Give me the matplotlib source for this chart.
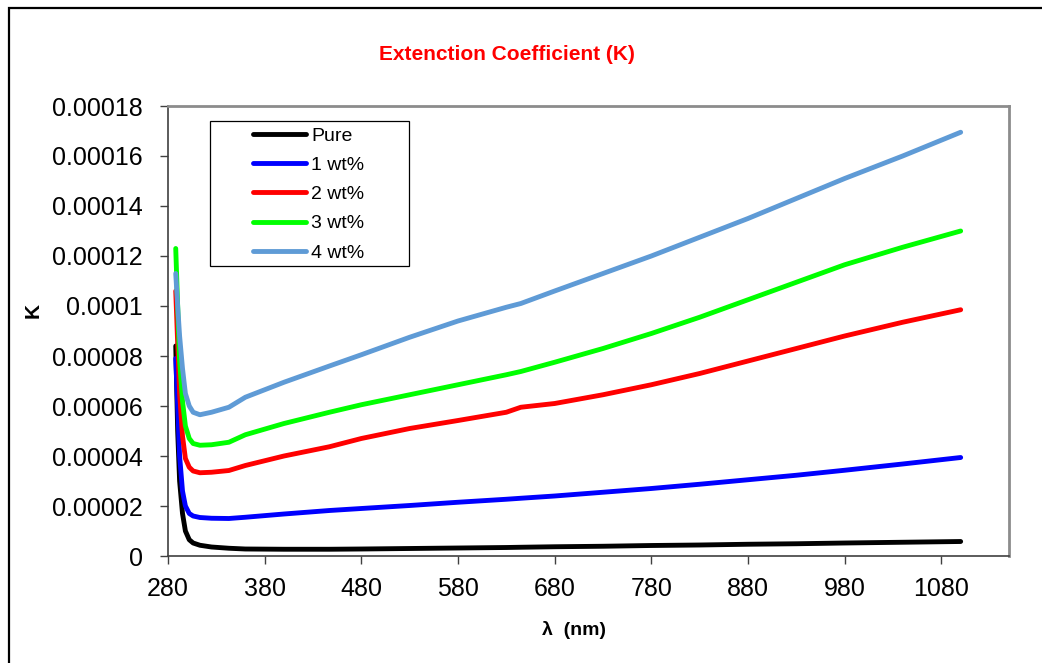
import matplotlib
matplotlib.use("Agg")
import matplotlib.pyplot as plt
from matplotlib.patches import Rectangle
from matplotlib.ticker import FuncFormatter, MultipleLocator

plt.rcParams['font.family'] = ['Liberation Sans', 'DejaVu Sans']

# wavelength (nm)
lam = [288, 290, 292, 295, 298, 302, 306, 313, 325, 343, 360, 400, 447, 480,
       530, 580, 630, 645, 680, 730, 780, 830, 880, 930, 980, 1040, 1100]

# extinction coefficient K
k_pure = [8.4e-5, 5.0e-5, 3.0e-5, 1.7e-5, 1.0e-5, 6.5e-6, 5.2e-6, 4.3e-6, 3.6e-6,
          3.1e-6, 2.8e-6, 2.7e-6, 2.7e-6, 2.8e-6, 3.0e-6, 3.2e-6, 3.4e-6, 3.5e-6,
          3.7e-6, 3.9e-6, 4.2e-6, 4.4e-6, 4.7e-6, 4.9e-6, 5.2e-6, 5.5e-6, 5.8e-6]
k_1wt = [7.9e-5, 6.0e-5, 4.0e-5, 2.6e-5, 2.0e-5, 1.7e-5, 1.6e-5, 1.54e-5, 1.51e-5,
         1.5e-5, 1.55e-5, 1.68e-5, 1.82e-5, 1.9e-5, 2.02e-5, 2.15e-5, 2.27e-5, 2.31e-5,
         2.4e-5, 2.55e-5, 2.7e-5, 2.87e-5, 3.05e-5, 3.23e-5, 3.43e-5, 3.68e-5, 3.94e-5]
k_2wt = [1.06e-4, 8.5e-5, 6.5e-5, 4.8e-5, 3.9e-5, 3.55e-5, 3.4e-5, 3.33e-5, 3.35e-5,
         3.42e-5, 3.62e-5, 4.0e-5, 4.37e-5, 4.7e-5, 5.1e-5, 5.42e-5, 5.75e-5, 5.95e-5,
         6.1e-5, 6.45e-5, 6.85e-5, 7.3e-5, 7.8e-5, 8.3e-5, 8.8e-5, 9.35e-5, 9.85e-5]
k_3wt = [1.23e-4, 1.0e-4, 7.8e-5, 6.2e-5, 5.2e-5, 4.7e-5, 4.5e-5, 4.43e-5, 4.45e-5,
         4.55e-5, 4.85e-5, 5.3e-5, 5.75e-5, 6.05e-5, 6.45e-5, 6.85e-5, 7.25e-5, 7.38e-5,
         7.75e-5, 8.3e-5, 8.9e-5, 9.55e-5, 1.025e-4, 1.095e-4, 1.165e-4, 1.235e-4, 1.3e-4]
k_4wt = [1.13e-4, 1.0e-4, 8.8e-5, 7.5e-5, 6.5e-5, 6.0e-5, 5.75e-5, 5.65e-5, 5.75e-5,
         5.95e-5, 6.35e-5, 6.95e-5, 7.6e-5, 8.05e-5, 8.75e-5, 9.4e-5, 9.95e-5, 1.01e-4,
         1.06e-4, 1.13e-4, 1.2e-4, 1.275e-4, 1.35e-4, 1.43e-4, 1.51e-4, 1.6e-4, 1.695e-4]

labels = ['Pure', '1 wt%', '2 wt%', '3 wt%', '4 wt%']
colors = ['#000000', '#0000ff', '#ff0000', '#00ff00', '#5f9bd6']

W, H = 1042, 663
fig = plt.figure(figsize=(W / 100, H / 100), dpi=100)
ax = fig.add_axes([168 / W, 1 - 556 / H, (1009 - 168) / W, (556 - 106) / H])

for ys, lab, c in zip([k_pure, k_1wt, k_2wt, k_3wt, k_4wt], labels, colors):
    ax.plot(lam, ys, color=c, lw=3.5, label=lab, solid_capstyle='round')

ax.set_xlim(280, 1150)
ax.set_ylim(0, 0.00018)
ax.yaxis.set_major_locator(MultipleLocator(0.00002))
ax.set_xticks(range(280, 1081, 100))
ax.yaxis.set_major_formatter(FuncFormatter(
    lambda v, p: '0' if abs(v) < 1e-12 else f"{v:.5f}".rstrip('0').rstrip('.')))

ax.tick_params(direction='out', length=6, width=1, colors='#404040',
               labelcolor='black', labelsize=18)
ax.tick_params(axis='y', pad=12)
ax.tick_params(axis='x', pad=9)
for s in ['left', 'bottom']:
    ax.spines[s].set_color('#404040')
    ax.spines[s].set_linewidth(1.2)
for s in ['top', 'right']:
    ax.spines[s].set_color('#8c8c8c')
    ax.spines[s].set_linewidth(2)

# legend: lines + text, box drawn separately
leg = ax.legend(loc='upper left', bbox_to_anchor=(253 / W, 1 - 127 / H),
                bbox_transform=fig.transFigure, frameon=False, fontsize=14,
                handlelength=2.75, handletextpad=0.25, borderpad=0,
                labelspacing=0.6, borderaxespad=0)
ax.add_patch(Rectangle((210 / W, 1 - 266 / H), (409 - 210) / W, (266 - 121) / H,
                       transform=fig.transFigure, fill=False, ec='black', lw=0.9,
                       zorder=5))

fig.text(507 / W, 1 - 54 / H, 'Extenction Coefficient (K)', color='#ff0000',
         fontsize=15, fontweight='bold', ha='center', va='center')
fig.text(574 / W, 1 - 630 / H, '\u03bb  (nm)', fontsize=14, fontweight='bold',
         ha='center', va='center')
fig.text(33 / W, 1 - 311 / H, 'K', fontsize=15, fontweight='bold', rotation=90,
         ha='center', va='center')

# outer chart border
fig.patches.append(Rectangle((9 / W, -0.1), 1.2, 1.1 - 8 / H, transform=fig.transFigure,
                             fill=False, ec='black', lw=1.6))

fig.savefig('out.png', dpi=100)
